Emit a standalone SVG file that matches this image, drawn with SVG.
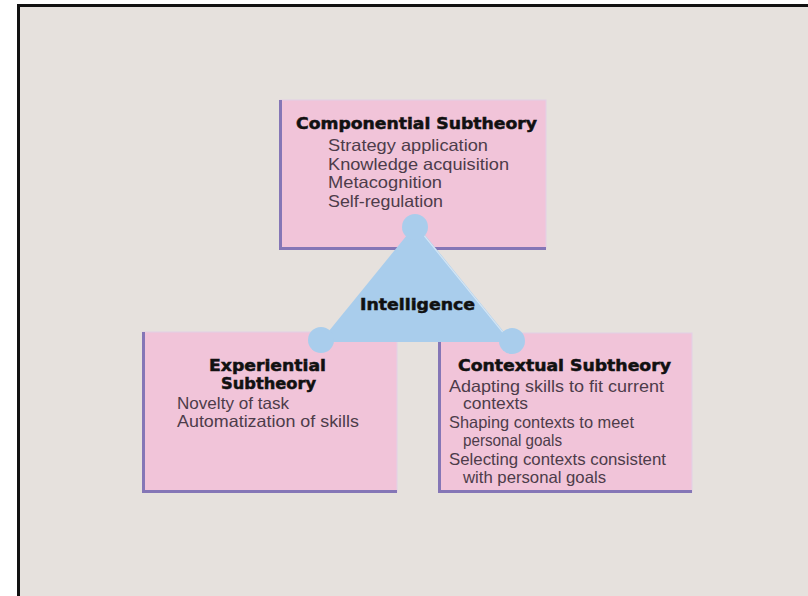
<svg xmlns="http://www.w3.org/2000/svg" width="808" height="596" viewBox="0 0 808 596">
<style>
.box{fill:#f1c4d9;stroke:#e2d0e6;stroke-width:1}
.edge{stroke:#8576b6;stroke-width:3;fill:none}
.head{font-family:"DejaVu Sans","Liberation Sans",sans-serif;font-weight:bold;font-size:15.5px;fill:#111;stroke:#111;stroke-width:0.5}
.body{font-family:"Liberation Sans",Arial,sans-serif;font-size:16.5px;fill:#4d3c4a}
.tri{fill:#a9cdec}
</style>
<rect x="0" y="0" width="808" height="596" fill="#ffffff"/>
<rect x="18.5" y="5.5" width="800" height="600" fill="#e6e1dd" stroke="#111" stroke-width="3"/>

<g id="componential">
<rect class="box" x="280" y="100" width="266" height="148"/>
<polyline class="edge" points="280.5,100 280.5,248.5 546,248.5"/>
<text class="head" x="296" y="129" textLength="241" lengthAdjust="spacingAndGlyphs">Componential Subtheory</text>
<text class="body" x="328" y="151" textLength="160" lengthAdjust="spacingAndGlyphs">Strategy application</text>
<text class="body" x="328" y="169.5" textLength="181" lengthAdjust="spacingAndGlyphs">Knowledge acquisition</text>
<text class="body" x="328" y="188" textLength="114" lengthAdjust="spacingAndGlyphs">Metacognition</text>
<text class="body" x="328" y="206.5" textLength="115" lengthAdjust="spacingAndGlyphs">Self-regulation</text>
</g>

<g id="experiential">
<rect class="box" x="143" y="332" width="254" height="160"/>
<polyline class="edge" points="143.5,332 143.5,491.5 397,491.5"/>
<text class="head" x="209" y="371" textLength="117" lengthAdjust="spacingAndGlyphs">Experiential</text>
<text class="head" x="221" y="388.5" textLength="95" lengthAdjust="spacingAndGlyphs">Subtheory</text>
<text class="body" x="177" y="408.5" textLength="112" lengthAdjust="spacingAndGlyphs">Novelty of task</text>
<text class="body" x="177" y="426.5" textLength="182" lengthAdjust="spacingAndGlyphs">Automatization of skills</text>
</g>

<g id="contextual">
<rect class="box" x="439" y="333" width="253" height="159"/>
<polyline class="edge" points="439.5,333 439.5,491.5 692,491.5"/>
<text class="head" x="458" y="371" textLength="213" lengthAdjust="spacingAndGlyphs">Contextual Subtheory</text>
<text class="body" x="449" y="392" textLength="215" lengthAdjust="spacingAndGlyphs">Adapting skills to fit current</text>
<text class="body" x="463" y="409" textLength="65" lengthAdjust="spacingAndGlyphs">contexts</text>
<text class="body" x="449" y="428" textLength="185" lengthAdjust="spacingAndGlyphs">Shaping contexts to meet</text>
<text class="body" x="463" y="445.5" textLength="99" lengthAdjust="spacingAndGlyphs">personal goals</text>
<text class="body" x="449" y="465" textLength="217" lengthAdjust="spacingAndGlyphs">Selecting contexts consistent</text>
<text class="body" x="463" y="482.5" textLength="143" lengthAdjust="spacingAndGlyphs">with personal goals</text>
</g>

<g id="intelligence">
<polygon class="tri" points="416,224 320,342 512,342"/>
<line x1="418" y1="228" x2="510" y2="341" stroke="#d4e5f4" stroke-width="1.2"/>
<circle class="tri" cx="415" cy="227" r="13"/>
<circle class="tri" cx="321" cy="340" r="13"/>
<circle class="tri" cx="512" cy="341" r="13"/>
<text class="head" x="360" y="310" textLength="115" lengthAdjust="spacingAndGlyphs">Intelligence</text>
</g>
</svg>
